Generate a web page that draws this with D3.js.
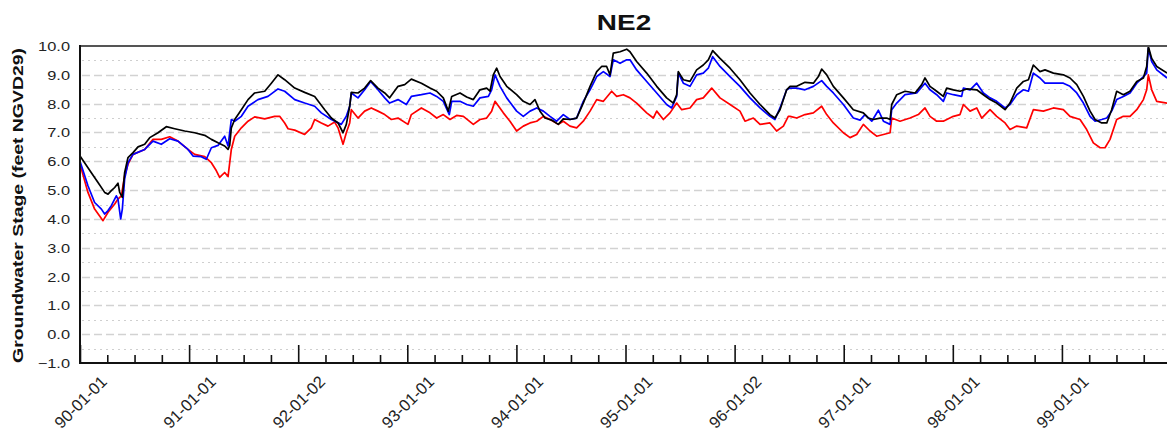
<!DOCTYPE html>
<html>
<head>
<meta charset="utf-8">
<script src="https://cdn.jsdelivr.net/npm/d3@7"></script>
<style>
  html, body { margin: 0; padding: 0; background: #fff; }
  svg { display: block; }
  text { font-family: "Liberation Sans", Arial, sans-serif; }
</style>
</head>
<body>
<svg id="chart" width="1167" height="438"></svg>
<script>
// ---------- data (time in years since 1990-01-01) ----------
const title = "NE2";
const yAxisTitle = "Groundwater Stage (feet NGVD29)";
const xTickLabels = ["90-01-01","91-01-01","92-01-02","93-01-01","94-01-01","95-01-01","96-01-02","97-01-01","98-01-01","99-01-01"];
const yTicks = [-1,0,1,2,3,4,5,6,7,8,9,10];

const blackYr = [0,0.104,0.165,0.226,0.257,0.287,0.318,0.348,0.364,0.388,0.409,0.44,0.486,0.532,0.593,0.639,0.715,0.791,0.868,0.959,1.051,1.143,1.204,1.265,1.326,1.357,1.372,1.387,1.418,1.479,1.54,1.601,1.693,1.754,1.815,1.876,1.968,2.059,2.151,2.243,2.304,2.365,2.411,2.441,2.472,2.487,2.548,2.609,2.664,2.731,2.793,2.838,2.915,2.976,3.037,3.129,
3.208,3.269,3.33,3.376,3.407,3.483,3.544,3.605,3.666,3.727,3.758,3.788,3.819,3.85,3.911,4.002,4.063,4.125,4.17,4.216,4.262,4.323,4.384,4.43,4.491,4.552,4.613,4.675,4.736,4.781,4.827,4.858,4.888,4.95,5.011,5.041,5.102,5.194,5.286,5.377,5.438,5.469,5.484,5.53,5.591,5.652,5.713,5.759,5.799,5.866,5.958,6.049,6.141,6.233,6.324,6.37,6.416,6.477,
6.508,6.569,6.645,6.722,6.768,6.798,6.844,6.905,6.997,7.088,7.18,7.226,7.272,7.333,7.394,7.425,7.44,7.486,7.562,7.654,7.715,7.745,7.791,7.852,7.913,7.944,8.005,8.066,8.127,8.219,8.28,8.341,8.402,8.479,8.524,8.586,8.647,8.693,8.738,8.799,8.845,8.922,9.013,9.074,9.136,9.197,9.258,9.304,9.365,9.411,9.456,9.502,9.563,9.624,9.686,9.747,9.777,9.792,9.823,9.869,9.964];
const blackStage = [6.18,5.6,5.26,4.92,4.86,4.98,5.09,5.24,4.92,4.75,5.6,6.13,6.3,6.5,6.59,6.82,6.99,7.2,7.13,7.05,6.99,6.9,6.76,6.64,6.53,6.41,6.55,7.16,7.45,7.79,8.14,8.37,8.43,8.71,9.0,8.83,8.54,8.39,8.25,7.79,7.5,7.33,6.99,7.28,7.91,8.39,8.37,8.54,8.8,8.54,8.37,8.2,8.6,8.66,8.85,8.71,
8.54,8.43,8.2,7.74,8.25,8.37,8.23,8.14,8.48,8.54,8.43,9.0,9.23,8.94,8.6,8.31,8.08,7.97,8.14,7.74,7.5,7.43,7.28,7.47,7.45,7.5,8.02,8.6,9.11,9.29,9.29,9.0,9.75,9.8,9.89,9.8,9.46,9.06,8.6,8.2,8.02,8.31,9.11,8.83,8.77,9.17,9.34,9.52,9.84,9.57,9.23,8.83,8.37,7.97,7.62,7.5,7.79,8.48,
8.6,8.6,8.74,8.71,8.94,9.2,9.0,8.6,8.2,7.79,7.68,7.5,7.45,7.5,7.5,7.45,7.97,8.31,8.43,8.37,8.66,8.89,8.6,8.43,8.25,8.54,8.48,8.43,8.51,8.48,8.31,8.14,8.02,7.79,8.02,8.54,8.77,8.83,9.34,9.11,9.17,9.06,9.0,8.89,8.66,8.25,7.74,7.45,7.33,7.33,7.79,8.43,8.31,8.43,8.77,8.89,9.29,9.98,9.57,9.29,9.06];

const blueYr = [0,0.073,0.134,0.196,0.226,0.257,0.287,0.333,0.348,0.373,0.388,0.409,0.44,0.486,0.593,0.669,0.745,0.822,0.898,0.99,1.036,1.112,1.158,1.204,1.265,1.326,1.357,1.387,1.418,1.479,1.54,1.631,1.723,1.815,1.876,1.968,2.059,2.151,2.212,2.304,2.395,2.441,2.472,2.487,2.548,2.609,2.664,2.731,2.793,2.838,2.915,2.991,3.037,3.129,
3.208,3.269,3.33,3.385,3.407,3.483,3.544,3.605,3.666,3.743,3.773,3.804,3.85,3.911,4.002,4.063,4.125,4.186,4.247,4.308,4.369,4.43,4.491,4.552,4.613,4.675,4.736,4.797,4.858,4.888,4.95,5.011,5.041,5.102,5.194,5.286,5.377,5.423,5.469,5.484,5.53,5.591,5.652,5.713,5.759,5.799,5.866,5.958,6.049,6.141,6.233,6.324,6.37,6.416,6.477,
6.508,6.569,6.645,6.722,6.798,6.844,6.905,6.997,7.088,7.15,7.195,7.257,7.318,7.364,7.425,7.44,7.486,7.562,7.669,7.745,7.791,7.852,7.913,7.944,8.005,8.081,8.097,8.158,8.219,8.28,8.341,8.402,8.479,8.524,8.586,8.647,8.693,8.738,8.799,8.845,8.922,9.013,9.074,9.136,9.197,9.258,9.304,9.365,9.411,9.456,9.502,9.563,9.624,9.686,9.747,9.777,9.792,9.823,9.869,9.964];
const blueStage = [6.0,5.15,4.57,4.34,4.17,4.29,4.46,4.8,4.69,4.0,4.34,5.38,5.95,6.24,6.41,6.7,6.59,6.78,6.7,6.41,6.18,6.16,6.07,6.47,6.55,6.87,6.53,7.45,7.39,7.56,7.91,8.14,8.25,8.51,8.43,8.14,8.02,7.91,7.68,7.45,7.28,7.56,7.91,8.37,8.2,8.48,8.77,8.48,8.2,8.02,8.14,7.97,8.25,8.31,
8.37,8.25,8.08,7.62,8.08,8.08,7.97,7.91,8.2,8.25,8.48,9.0,8.6,8.2,7.74,7.56,7.74,7.85,7.74,7.56,7.39,7.62,7.45,7.5,8.08,8.48,8.94,9.11,8.94,9.52,9.4,9.52,9.52,9.17,8.77,8.37,7.97,7.85,8.25,9.06,8.71,8.6,9.0,9.06,9.23,9.63,9.29,8.94,8.6,8.2,7.85,7.56,7.45,7.85,8.48,
8.54,8.54,8.48,8.6,8.8,8.6,8.37,7.97,7.5,7.43,7.62,7.39,7.77,7.39,7.28,7.79,8.02,8.31,8.37,8.71,8.48,8.31,8.08,8.37,8.31,8.25,8.54,8.48,8.71,8.37,8.2,8.08,7.85,7.97,8.31,8.48,8.43,9.06,8.89,8.71,8.71,8.71,8.6,8.37,8.02,7.56,7.39,7.45,7.5,7.74,8.14,8.25,8.37,8.71,8.94,9.06,9.92,9.46,9.17,8.89];

const redYr = [0,0.073,0.134,0.211,0.257,0.318,0.348,0.379,0.409,0.44,0.486,0.593,0.669,0.745,0.822,0.898,0.99,1.051,1.143,1.204,1.25,1.28,1.326,1.357,1.387,1.418,1.479,1.54,1.601,1.693,1.784,1.83,1.876,1.907,1.968,2.059,2.12,2.151,2.212,2.273,2.334,2.365,2.411,2.441,2.472,2.487,2.548,2.609,2.67,2.731,2.793,2.854,2.915,3.006,3.037,3.129,
3.208,3.269,3.33,3.391,3.452,3.514,3.605,3.666,3.727,3.773,3.804,3.88,3.941,4.002,4.063,4.125,4.186,4.247,4.308,4.384,4.43,4.491,4.552,4.613,4.675,4.736,4.797,4.873,4.919,4.98,5.041,5.102,5.194,5.255,5.286,5.347,5.408,5.469,5.515,5.591,5.652,5.713,5.79,5.866,5.958,6.049,6.095,6.172,6.233,6.324,6.385,6.447,6.492,
6.508,6.569,6.645,6.722,6.798,6.844,6.905,6.997,7.058,7.119,7.18,7.241,7.302,7.364,7.425,7.44,7.516,7.608,7.684,7.745,7.791,7.852,7.913,8.005,8.066,8.097,8.158,8.219,8.265,8.341,8.402,8.479,8.524,8.586,8.677,8.738,8.83,8.922,9.013,9.074,9.166,9.227,9.288,9.35,9.395,9.441,9.502,9.563,9.624,9.686,9.747,9.777,9.792,9.823,9.869,9.964];
const redStage = [5.9,4.92,4.34,3.94,4.23,4.52,4.69,4.8,5.49,5.9,6.24,6.41,6.76,6.76,6.85,6.7,6.41,6.24,6.16,5.95,5.67,5.44,5.61,5.47,6.41,6.87,7.16,7.39,7.54,7.47,7.56,7.56,7.33,7.13,7.08,6.93,7.16,7.45,7.33,7.22,7.36,7.16,6.59,6.99,7.33,7.79,7.5,7.74,7.85,7.74,7.62,7.45,7.5,7.28,7.62,7.85,
7.68,7.5,7.62,7.45,7.59,7.56,7.28,7.45,7.5,7.74,8.08,7.68,7.39,7.05,7.22,7.33,7.39,7.56,7.45,7.28,7.39,7.22,7.16,7.39,7.74,8.14,8.08,8.43,8.25,8.31,8.2,8.02,7.68,7.5,7.74,7.45,7.68,8.02,7.79,7.85,8.14,8.2,8.54,8.2,7.97,7.74,7.39,7.5,7.28,7.33,7.05,7.22,7.56,
7.56,7.5,7.62,7.68,7.91,7.62,7.33,6.99,6.82,6.93,7.28,7.05,6.87,6.93,6.99,7.5,7.39,7.5,7.62,7.85,7.56,7.39,7.39,7.56,7.62,7.97,7.74,7.85,7.5,7.79,7.56,7.33,7.1,7.22,7.16,7.79,7.74,7.85,7.79,7.56,7.45,7.1,6.64,6.47,6.47,6.76,7.45,7.56,7.56,7.79,8.14,8.48,9.0,8.48,8.08,8.02];

const seriesColors = ["#ff0000", "#0000ff", "#000000"];

(function draw() {
  const svg = d3.select("#chart");
  const pL = 80, pR = 1166, pT = 46, pB = 363;
  const x = d3.scaleLinear().domain([0, 9.954]).range([pL, pR]);
  const y = d3.scaleLinear().domain([-1, 10]).range([pB, pT]);

  // grid
  const gridVals = d3.range(-0.5, 10, 0.5);
  svg.append("g").selectAll("line").data(gridVals).join("line")
    .attr("x1", pL + 2).attr("x2", pR)
    .attr("y1", d => Math.round(y(d)) + 0.5).attr("y2", d => Math.round(y(d)) + 0.5)
    .attr("stroke", d => Number.isInteger(d) ? "#d2d2d2" : "#cfcfcf")
    .attr("stroke-width", d => Number.isInteger(d) ? 1.6 : 1.2)
    .attr("stroke-dasharray", d => Number.isInteger(d) ? "8,4" : "2,4");

  // lines
  svg.append("clipPath").attr("id", "clip").append("rect")
    .attr("x", pL).attr("y", pT - 1).attr("width", pR - pL + 2).attr("height", pB - pT + 1);
  const lineGen = d3.line().x(d => x(d[0])).y(d => y(d[1]));
  const series = [
    d3.zip(redYr, redStage),
    d3.zip(blueYr, blueStage),
    d3.zip(blackYr, blackStage)
  ];
  svg.append("g").attr("clip-path", "url(#clip)").selectAll("path").data(series).join("path")
    .attr("d", lineGen)
    .attr("fill", "none")
    .attr("stroke", (d, i) => seriesColors[i])
    .attr("stroke-width", 1.7)
    .attr("stroke-linejoin", "round");

  // top border
  svg.append("line").attr("x1", pL).attr("x2", 1167).attr("y1", pT).attr("y2", pT)
    .attr("stroke", "#555").attr("stroke-width", 2);

  // y axis
  const yAxis = svg.append("g").attr("transform", `translate(${pL},0)`)
    .call(d3.axisLeft(y).tickValues(yTicks).tickSize(0).tickFormat(d3.format(".1f")));
  yAxis.select(".domain").remove();
  yAxis.selectAll("text")
    .attr("x", 0).attr("dy", "0.36em")
    .attr("transform", "translate(-10,0) scale(1.3,1)")
    .attr("font-size", 12.6).attr("fill", "#222")
    .style("font-family", "'Liberation Sans', Arial, sans-serif");
  svg.append("line").attr("x1", pL).attr("x2", pL).attr("y1", pT - 1).attr("y2", pB + 1)
    .attr("stroke", "#111").attr("stroke-width", 2);

  // x axis: minor quarterly ticks
  const minorVals = d3.range(0, 40).map(i => i / 4).filter(v => v % 1 !== 0 && v <= 9.954);
  svg.append("g").attr("transform", `translate(0,${pB})`)
    .call(d3.axisBottom(x).tickValues(minorVals).tickSize(-8).tickFormat(""))
    .call(g => g.select(".domain").remove())
    .selectAll("line").attr("stroke", "#111").attr("stroke-width", 1.6);

  // x axis: major yearly ticks
  const majorVals = d3.range(0, xTickLabels.length);
  const xAxis = svg.append("g").attr("transform", `translate(0,${pB})`)
    .call(d3.axisBottom(x).tickValues(majorVals).tickSize(-18).tickFormat(i => xTickLabels[i]));
  xAxis.select(".domain").remove();
  xAxis.selectAll("line").attr("stroke", "#111").attr("stroke-width", 1.6);
  xAxis.selectAll("text")
    .attr("y", 0).attr("dy", "0.35em")
    .attr("text-anchor", "middle")
    .attr("transform", "translate(0,39) rotate(-45)")
    .attr("font-size", 16.5).attr("fill", "#222")
    .style("font-family", "'Liberation Sans', Arial, sans-serif");
  svg.append("line").attr("x1", pL - 1).attr("x2", 1167).attr("y1", pB).attr("y2", pB)
    .attr("stroke", "#111").attr("stroke-width", 2);

  // title
  svg.append("text").text(title)
    .attr("transform", "translate(624,29.5) scale(1.27,1)")
    .attr("text-anchor", "middle")
    .attr("font-size", 22).attr("font-weight", "bold").attr("fill", "#111");

  // y axis title
  svg.append("text").text(yAxisTitle)
    .attr("transform", "translate(23,205.5) rotate(-90) scale(1.34,1)")
    .attr("text-anchor", "middle")
    .attr("font-size", 14.5).attr("font-weight", "bold").attr("fill", "#111");
})();
</script>
</body>
</html>
